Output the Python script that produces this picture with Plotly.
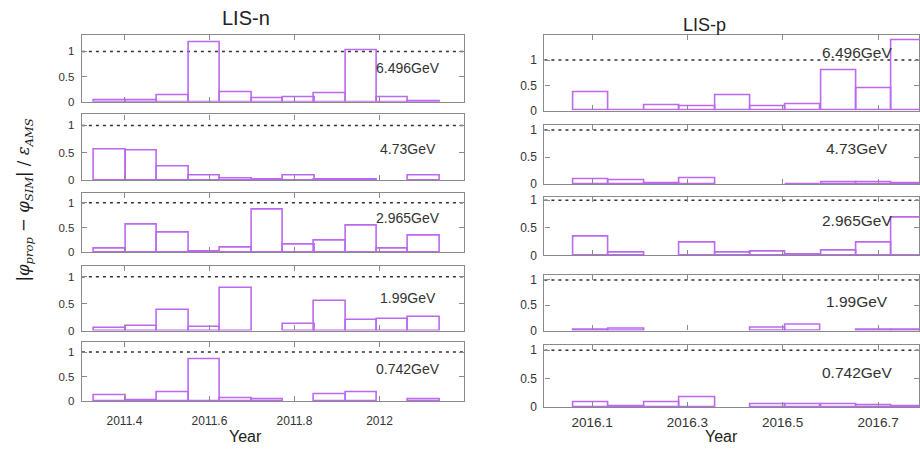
import plotly.graph_objects as go

# ---------------- data ----------------
ENERGIES = ["6.496GeV", "4.73GeV", "2.965GeV", "1.99GeV", "0.742GeV"]

# LIS-n (2011) Bartels-rotation bins
N_CENTERS = [2011.366, 2011.440, 2011.514, 2011.588, 2011.662, 2011.736,
             2011.810, 2011.883, 2011.957, 2012.031, 2012.105]
N_WIDTH = 0.0739
N_6496 = [0.03, 0.03, 0.12, 1.19, 0.19, 0.065, 0.09, 0.16, 1.03, 0.085, 0.005]
N_473 = [0.557, 0.54, 0.24, 0.08, 0.03, 0.006, 0.09, 0.005, 0.005, None, 0.08]
N_2965 = [0.07, 0.55, 0.39, 0.01, 0.094, 0.86, 0.154, 0.23, 0.53, 0.08, 0.34]
N_199 = [0.05, 0.09, 0.39, 0.07, 0.80, None, 0.12, 0.545, 0.19, 0.22, 0.25]
N_0742 = [0.12, 0.013, 0.17, 0.86, 0.047, 0.027, None, 0.14, 0.17, None, 0.033]

# LIS-p (2016) Bartels-rotation bins
P_CENTERS = [2016.098, 2016.172, 2016.247, 2016.321, 2016.395, 2016.469,
             2016.543, 2016.618, 2016.692, 2016.766]
P_WIDTH = 0.0742
P_6496 = [0.37, 0.013, 0.11, 0.084, 0.30, 0.084, 0.116, 0.80, 0.45, 1.39]
P_473 = [0.085, 0.073, 0.006, 0.097, None, None, 0.003, 0.036, 0.024, 0.005]
P_2965 = [0.335, 0.047, None, 0.224, 0.047, 0.06, 0.005, 0.09, 0.235, 0.68]
P_199 = [0.013, 0.026, None, None, None, 0.05, 0.116, None, 0.013, 0.013]
P_0742 = [0.087, 0.012, 0.075, 0.17, None, 0.046, 0.052, 0.052, 0.023, 0.003]

N_TICKS = [2011.4, 2011.6, 2011.8, 2012.0]
N_TICKTEXT = ["2011.4", "2011.6", "2011.8", "2012"]
P_TICKS = [2016.1, 2016.3, 2016.5, 2016.7]
P_TICKTEXT = ["2016.1", "2016.3", "2016.5", "2016.7"]
Y_TICKS = [0, 0.5, 1]
Y_TICKTEXT = ["0", "0.5", "1"]

# ---------------- layout ----------------
W, H = 920, 453
PURPLE = "rgb(188,105,242)"
AXC = "#8a8a8a"
TXT = "#333333"
FONT = "Liberation Sans, Arial, sans-serif"

def fx(px):
    return px / W

def fy(py):
    return 1 - py / H

left_panels = [(33, 101), (114, 181), (194, 255), (269, 335), (347, 407)]
right_panels = [(33, 110), (125, 185), (198, 258), (278, 335), (350, 413)]
left_ranges = [1.32, 1.2, 1.2, 1.2, 1.2]
right_ranges = [1.49, 1.09, 1.065, 1.10, 1.086]
left_label_y = [66, 149, 220, 302, 374]
right_label_y = [51, 149, 222, 305, 378]

N_SERIES = [N_6496, N_473, N_2965, N_199, N_0742]
P_SERIES = [P_6496, P_473, P_2965, P_199, P_0742]

fig = go.Figure()
layout = dict(
    width=W, height=H, margin=dict(l=0, r=0, t=0, b=0),
    paper_bgcolor="white", plot_bgcolor="white",
    showlegend=False, bargap=0, barmode="overlay",
    font=dict(family=FONT, color=TXT, size=11),
)
shapes = []
annotations = []

idx = 0
for col in range(2):
    panels = left_panels if col == 0 else right_panels
    ranges = left_ranges if col == 0 else right_ranges
    series = N_SERIES if col == 0 else P_SERIES
    centers = N_CENTERS if col == 0 else P_CENTERS
    width = N_WIDTH if col == 0 else P_WIDTH
    xdom = [fx(82), fx(465)] if col == 0 else [fx(545), 1.0]
    xrng = [2011.3, 2012.2] if col == 0 else [2016.0, 2016.786]
    ticks = N_TICKS if col == 0 else P_TICKS
    ticktext = N_TICKTEXT if col == 0 else P_TICKTEXT
    label_ys = left_label_y if col == 0 else right_label_y
    label_x = 408 if col == 0 else 858
    lab_size = 14 if col == 0 else 15.5
    xt_size = 12 if col == 0 else 13.5
    yt_size = 11.5 if col == 0 else 12
    xt_stand = 8 if col == 0 else 3
    for r in range(5):
        idx += 1
        xa = "x" if idx == 1 else f"x{idx}"
        ya = "y" if idx == 1 else f"y{idx}"
        top, bot = panels[r]
        fig.add_trace(go.Bar(
            x=centers, y=series[r], width=[width] * len(centers),
            marker=dict(color="rgba(0,0,0,0)", line=dict(color=PURPLE, width=1.6)),
            xaxis=xa, yaxis=ya, hoverinfo="x+y",
        ))
        layout["xaxis" if idx == 1 else f"xaxis{idx}"] = dict(
            domain=xdom, range=xrng, anchor=ya,
            tickvals=ticks, ticktext=ticktext,
            showticklabels=(r == 4), ticks="inside", ticklen=5,
            tickcolor=AXC, showline=True, linecolor=AXC, linewidth=1.3,
            mirror="ticks", showgrid=False, zeroline=False,
            ticklabelstandoff=xt_stand,
            tickfont=dict(size=xt_size, color=TXT, family=FONT),
        )
        layout["yaxis" if idx == 1 else f"yaxis{idx}"] = dict(
            domain=[fy(bot), fy(top)], range=[0, ranges[r]], anchor=xa,
            tickvals=Y_TICKS, ticktext=Y_TICKTEXT,
            ticks="inside", ticklen=5, tickcolor=AXC,
            showline=True, linecolor=AXC, linewidth=1.3, mirror="ticks",
            showgrid=False, zeroline=False, ticklabelstandoff=4,
            tickfont=dict(size=yt_size, color=TXT, family=FONT),
        )
        shapes.append(dict(
            type="line", xref=f"{xa} domain", yref=ya, x0=0, x1=1, y0=1, y1=1,
            line=dict(color="#333333", width=1.5, dash="3px,4px"), layer="below",
        ))
        annotations.append(dict(
            text=ENERGIES[r], x=fx(label_x), y=fy(label_ys[r]), xref="paper", yref="paper",
            showarrow=False, font=dict(size=lab_size, color=TXT, family=FONT),
            xanchor="center", yanchor="middle",
        ))

annotations += [
    dict(text="LIS-n", x=fx(246), y=fy(15), xref="paper", yref="paper", showarrow=False,
         font=dict(size=20, color="#222", family=FONT), xanchor="center", yanchor="middle"),
    dict(text="LIS-p", x=fx(705), y=fy(22), xref="paper", yref="paper", showarrow=False,
         font=dict(size=18, color="#222", family=FONT), xanchor="center", yanchor="middle"),
    dict(text="Year", x=fx(246), y=fy(443), xref="paper", yref="paper", showarrow=False,
         font=dict(size=16, color="#222", family=FONT), xanchor="center", yanchor="middle"),
    dict(text="Year", x=fx(722), y=fy(443), xref="paper", yref="paper", showarrow=False,
         font=dict(size=16, color="#222", family=FONT), xanchor="center", yanchor="middle"),
    dict(text="|<i>φ</i><sub><i>prop</i></sub> − <i>φ</i><sub><i>SIM</i></sub>| / <i>ε</i><sub><i>AMS</i></sub>",
         x=fx(25), y=fy(201), xref="paper", yref="paper", showarrow=False, textangle=-90,
         font=dict(size=16.5, color="#1a1a1a", family="DejaVu Serif, serif"),
         xanchor="center", yanchor="middle"),
]

layout["shapes"] = shapes
layout["annotations"] = annotations
fig.update_layout(**layout)
fig.write_html("out.html")
